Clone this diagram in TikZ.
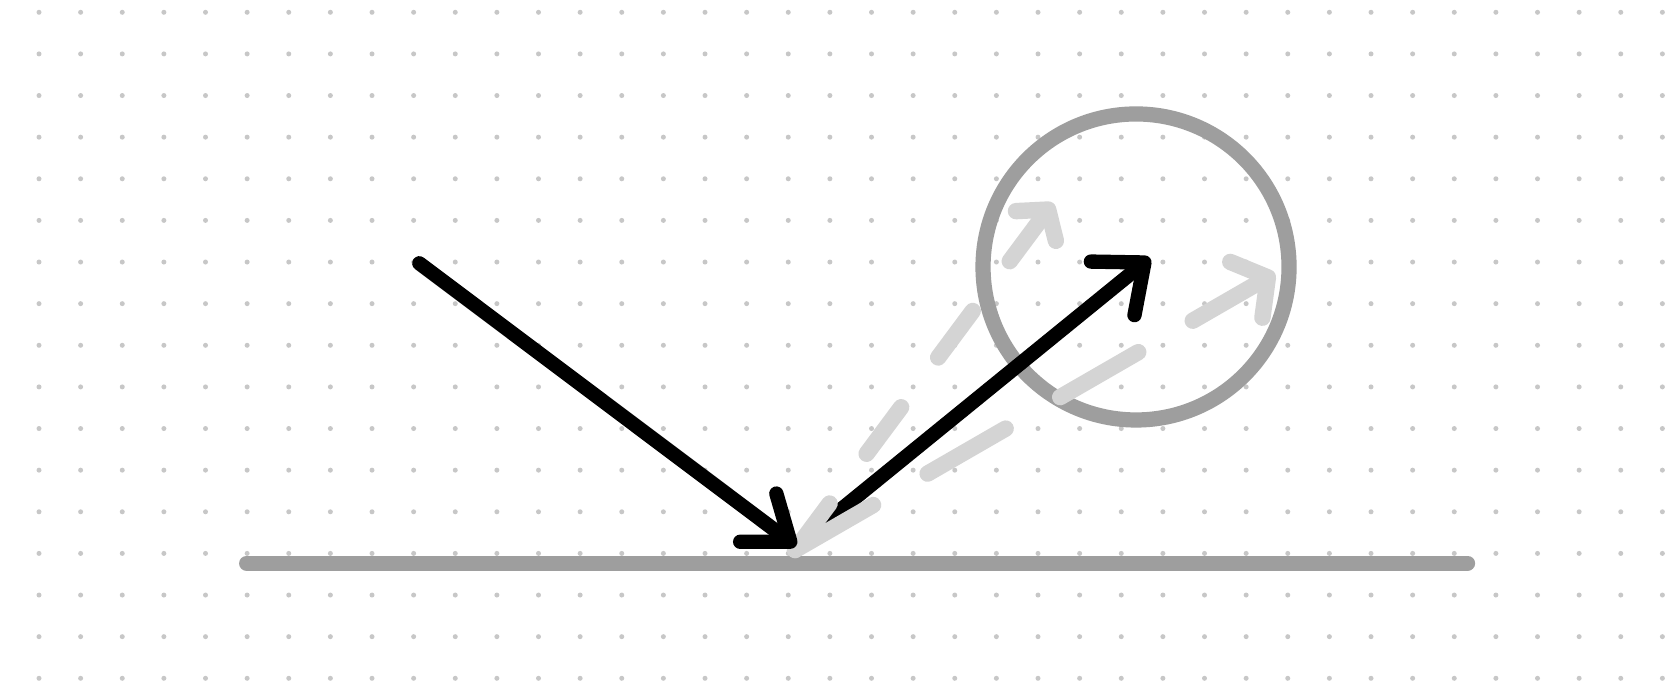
\documentclass[tikz,border=0pt]{standalone}
\usetikzlibrary{arrows.meta}

\begin{document}
\begin{tikzpicture}[line cap=round,line join=round,
  ray/.style={line width=4.9pt,black},
  ghost/.style={line width=5.6pt,black!17},
  ring/.style={line width=5.2pt,black!38}]
\useasboundingbox (0,0) rectangle (20.024,-8.252);
\fill[white] (0,0) rectangle (20.024,-8.252);
% dot grid
\foreach \i in {0,...,39}{\foreach \j in {0,...,16}{
  \fill[black!22] (0.4685+0.5*\i,-0.1477-0.5*\j) circle (0.03);
}}
% points
\coordinate (A) at (5.037,-3.163);
\coordinate (H) at (9.562,-6.559);
\coordinate (G) at (9.550,-6.607);
\coordinate (R) at (13.814,-3.099);
\coordinate (S) at (12.649,-2.438);
\coordinate (T) at (15.315,-3.283);
% mirror
\draw[ring] (2.963,-6.765) coordinate (M1) -- (17.628,-6.765) coordinate (M2);
% highlight circle
\draw[ring] (13.646,-3.207) circle (1.838);
% reflected ray
\draw[ray,-{Straight Barb[length=14pt,width=23.6pt,round]}] (H) -- (R);
% other directions, dashed
\draw[ghost,dash pattern=on 19.8pt off 21.2pt,-{Straight Barb[length=7pt,width=17pt,round]}] (G) -- (S);
\draw[ghost,dash pattern=on 30.8pt off 21.5pt,-{Straight Barb[length=8.5pt,width=22pt,round]}] (G) -- (T);
% incident ray
\draw[ray,-{Straight Barb[length=13.7pt,width=20.6pt,round]}] (A) -- (H);
\end{tikzpicture}
\end{document}
